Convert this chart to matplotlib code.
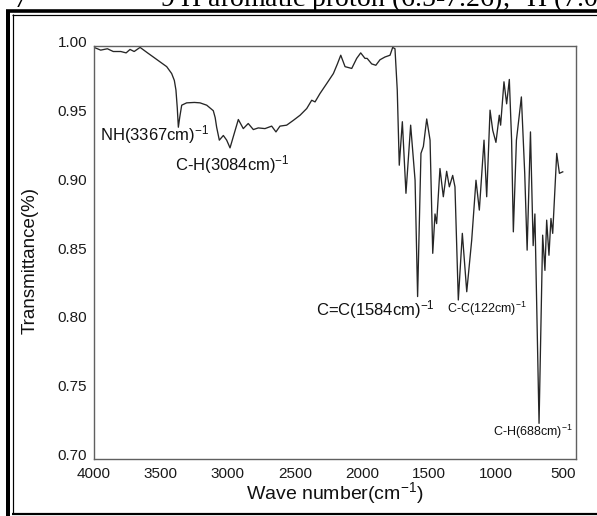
import numpy as np
import matplotlib
matplotlib.use("Agg")
from matplotlib import pyplot as plt
from matplotlib import transforms
from matplotlib.lines import Line2D

plt.rcParams['font.family'] = ['Liberation Sans', 'DejaVu Sans']
plt.rcParams['mathtext.default'] = 'regular'

# FTIR spectrum (wave number in cm-1, transmittance)
wave_number = [4000, 3950, 3900, 3856, 3800, 3760, 3731, 3700, 3656, 3600,
               3557, 3500, 3457, 3420, 3400, 3388, 3378, 3370, 3360, 3345,
               3308, 3250, 3208, 3158, 3109, 3095, 3084, 3064, 3034, 3009,
               2984, 2960, 2922, 2885, 2848, 2810, 2773, 2723, 2673, 2641,
               2611, 2561, 2511, 2461, 2411, 2374, 2349, 2312, 2262, 2212,
               2182, 2157, 2125, 2075, 2038, 2008, 1976, 1960, 1926, 1895,
               1864, 1827, 1789, 1769, 1752, 1735, 1720, 1697, 1670, 1635,
               1602, 1583, 1558, 1540, 1515, 1490, 1470, 1453, 1441, 1416,
               1391, 1366, 1346, 1321, 1304, 1279, 1249, 1216, 1179, 1147,
               1122, 1087, 1067, 1042, 1022, 998, 973, 963, 938, 918,
               898, 881, 868, 845, 808, 783, 765, 740, 720, 707,
               676, 649, 632, 619, 602, 587, 574, 544, 524, 499]
transmittance = [0.999, 0.997, 0.998, 0.996, 0.996, 0.995, 0.9975, 0.996, 0.999, 0.995,
                 0.992, 0.988, 0.985, 0.980, 0.975, 0.968, 0.955, 0.941, 0.948, 0.957,
                 0.9587, 0.959, 0.9587, 0.957, 0.953, 0.948, 0.941, 0.9316, 0.935, 0.9316,
                 0.926, 0.934, 0.9466, 0.940, 0.9437, 0.9393, 0.9405, 0.940, 0.9418, 0.9376,
                 0.9418, 0.9425, 0.946, 0.9497, 0.9546, 0.9606, 0.9594, 0.9655, 0.9727, 0.980,
                 0.987, 0.9933, 0.985, 0.9837, 0.991, 0.995, 0.991, 0.991, 0.987, 0.986,
                 0.990, 0.992, 0.9933, 0.999, 0.998, 0.968, 0.9134, 0.945, 0.893, 0.9425,
                 0.9025, 0.818, 0.922, 0.927, 0.947, 0.9316, 0.8494, 0.878, 0.871, 0.911,
                 0.8905, 0.909, 0.8977, 0.906, 0.8977, 0.8155, 0.8639, 0.8215, 0.859, 0.9025,
                 0.8808, 0.9316, 0.8905, 0.9534, 0.9388, 0.930, 0.9497, 0.9425, 0.974, 0.958,
                 0.9757, 0.9316, 0.865, 0.9316, 0.963, 0.9075, 0.8517, 0.9376, 0.855, 0.878,
                 0.7259, 0.8626, 0.837, 0.8735, 0.848, 0.8747, 0.8639, 0.922, 0.9075, 0.9086]

x_ticks = [4000, 3500, 3000, 2500, 2000, 1500, 1000, 500]
y_ticks = [0.70, 0.75, 0.80, 0.85, 0.90, 0.95, 1.00]

# peak labels: text, anchor wave number, anchor transmittance, font size, alignment
peak_labels = ["NH(3367cm)$^{-1}$", "C-H(3084cm)$^{-1}$", "C=C(1584cm)$^{-1}$",
               "C-C(122cm)$^{-1}$", "C-H(688cm)$^{-1}$"]
label_wn = [3955, 3392, 1453, 1363, 1020]
label_t = [0.9356, 0.9140, 0.8085, 0.8090, 0.7200]
label_size = [12, 12, 12, 9, 9]
label_ha = ['left', 'left', 'right', 'left', 'left']

W, H = 597, 516
fig = plt.figure(figsize=(W / 100, H / 100), dpi=100)
ax = fig.add_axes([94 / W, 1 - 459 / H, 482 / W, 413 / H])

ax.plot(wave_number, transmittance, color='#262626', lw=0.95)

ax.set_xlim(4000, 400)
ax.set_ylim(0.70, 1.00)
ax.set_xticks(x_ticks)
ax.set_yticks(y_ticks)
ax.set_yticklabels([f"{v:.2f}" for v in y_ticks])
ax.tick_params(length=0, labelsize=11, colors='#1a1a1a')
ax.tick_params(axis='x', pad=6)
ax.tick_params(axis='y', pad=5)
for sp in ax.spines.values():
    sp.set_color('#606060')
    sp.set_linewidth(1.0)

# y tick labels sit a little above their positions in the original
shift = transforms.ScaledTranslation(0, 4.5 / 100, fig.dpi_scale_trans)
for t in ax.yaxis.get_major_ticks():
    t.label1.set_transform(t.label1.get_transform() + shift)

ax.set_xlabel("Wave number(cm$^{-1}$)", fontsize=14, labelpad=-1, color='#111111')
ax.set_ylabel("Transmittance(%)", fontsize=13.5, color='#111111')
ax.yaxis.set_label_coords(-0.115, 0.48)

for txt, xw, yt, fs, ha in zip(peak_labels, label_wn, label_t, label_size, label_ha):
    ax.text(xw, yt, txt, fontsize=fs, ha=ha, va='center', color='#111111')

# document table border around the figure
def hline(y, x0, x1, w):
    fig.add_artist(Line2D([x0 / W, x1 / W], [1 - y / H, 1 - y / H], color='black',
                          lw=w * 0.72, transform=fig.transFigure, solid_capstyle='butt'))

def vline(x, y0, y1, w):
    fig.add_artist(Line2D([x / W, x / W], [1 - y0 / H, 1 - y1 / H], color='black',
                          lw=w * 0.72, transform=fig.transFigure, solid_capstyle='butt'))

vline(8, 9.5, 516, 4)
vline(12.8, 13.8, 514, 1.2)
hline(11.3, 6, 597, 3.6)
hline(14.8, 12.2, 597, 1.2)
hline(514, 12.2, 597, 2.2)

# cut-off line of document text above the figure
fig.text(13 / W, 1 - 6.7 / H, "7", fontsize=20, family='Liberation Serif', va='baseline')
fig.text(160 / W, 1 - 6.7 / H, "9 H aromatic proton (6.5-7.26), $^{1}$H (7.0",
         fontsize=20, family='Liberation Serif', va='baseline')

fig.savefig("out.png", dpi=100)
